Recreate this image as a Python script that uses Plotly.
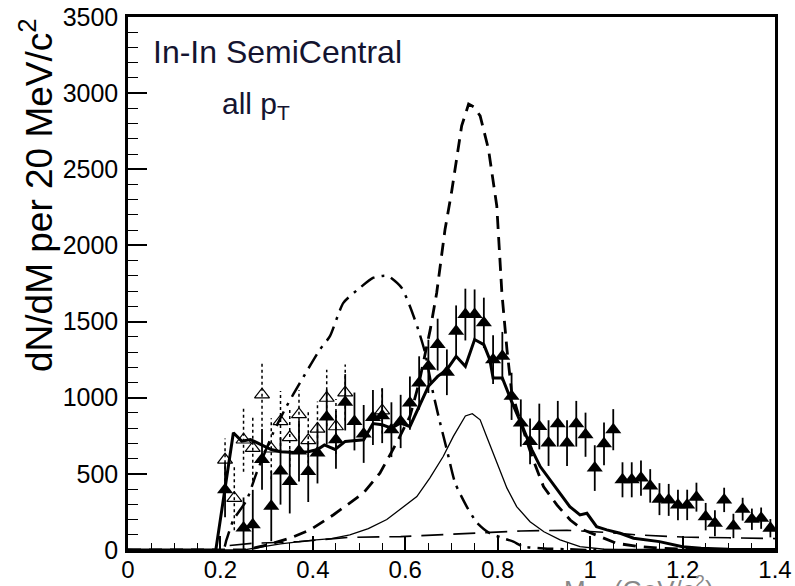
import plotly.graph_objects as go

# ---- data points (filled triangles) ----
fill_x = [0.21, 0.25, 0.27, 0.29, 0.31, 0.33, 0.35, 0.37, 0.39, 0.41, 0.43, 0.45, 0.47, 0.49,
          0.51, 0.53, 0.55, 0.57, 0.59, 0.61, 0.63, 0.65, 0.67, 0.69, 0.71, 0.73, 0.75, 0.77,
          0.79, 0.81, 0.83, 0.85, 0.87, 0.89, 0.91, 0.93, 0.95, 0.97, 0.99, 1.01, 1.03, 1.05,
          1.07, 1.09, 1.11, 1.13, 1.15, 1.17, 1.19, 1.21, 1.23, 1.25, 1.27, 1.29, 1.31, 1.33,
          1.35, 1.37, 1.39]
fill_y = [395, 145, 165, 595, 288, 518, 450, 650, 515, 637, 873, 724, 970, 844,
          762, 870, 882, 790, 844, 965, 1097, 1206, 1349, 1167, 1436, 1546, 1546, 1492,
          1250, 1272, 1009, 834, 713, 811, 702, 829, 702, 829, 757, 538, 697, 790,
          461, 461, 472, 421, 334, 329, 296, 296, 347, 219, 176, 329, 158, 268,
          202, 209, 143]
fill_err = [180, 200, 230, 200, 230, 220, 210, 200, 200, 200, 180, 190, 185, 190,
            190, 180, 180, 180, 175, 175, 175, 175, 170, 150, 170, 170, 165, 165,
            160, 160, 155, 155, 150, 150, 150, 150, 150, 150, 145, 150, 140, 135,
            115, 115, 115, 110, 105, 105, 100, 100, 95, 90, 85, 80, 80, 75,
            70, 70, 60]

# ---- open triangles ----
open_x = [0.21, 0.23, 0.25, 0.27, 0.29, 0.31, 0.33, 0.35, 0.37, 0.39, 0.41, 0.43, 0.45, 0.47, 0.55]
open_y = [592, 340, 724, 669, 1020, 665, 844, 740, 890, 720, 795, 998, 811, 1033, 915]
open_err = [140, 210, 210, 215, 210, 200, 200, 195, 160, 190, 180, 186, 180, 185, 150]

# ---- thick solid (sum) ----
sum_x = [0.0, 0.19, 0.228, 0.246, 0.265, 0.29, 0.31, 0.33, 0.36, 0.39, 0.41, 0.425, 0.448, 0.47,
         0.51, 0.53, 0.55, 0.57, 0.59, 0.61, 0.63, 0.65, 0.67, 0.69, 0.71, 0.73, 0.75, 0.77,
         0.783, 0.79, 0.81, 0.83, 0.855, 0.874, 0.892, 0.913, 0.935, 0.956, 0.978, 0.993,
         1.014, 1.036, 1.065, 1.094, 1.15, 1.2, 1.24, 1.3, 1.4]
sum_y = [0, 0, 770, 715, 725, 690, 660, 645, 640, 645, 660, 690, 660, 713,
         724, 830, 822, 800, 834, 811, 943, 1075, 1140, 1184, 1272, 1206, 1382, 1349,
         1250, 1130, 1130, 976, 800, 658, 548, 461, 373, 285, 230, 241,
         153, 132, 110, 77, 55, 22, 11, 5, 3]

# ---- thin solid ----
thin_x = [0.0, 0.25, 0.29, 0.33, 0.40, 0.44, 0.48, 0.52, 0.56, 0.60, 0.625, 0.653, 0.682, 0.704,
          0.73, 0.745, 0.762, 0.776, 0.798, 0.82, 0.841, 0.87, 0.90, 0.935, 0.978, 1.03, 1.4]
thin_y = [0, 0, 20, 40, 65, 75, 99, 140, 200, 290, 351, 472, 614, 746,
          880, 895, 855, 746, 570, 406, 285, 186, 120, 66, 22, 5, 0]

# ---- thick dashed ----
dash_x = [0.0, 0.25, 0.27, 0.30, 0.35, 0.394, 0.444, 0.488, 0.509, 0.545, 0.581, 0.61, 0.63, 0.654,
          0.668, 0.686, 0.70, 0.722, 0.737, 0.748, 0.762, 0.78, 0.798, 0.809, 0.82, 0.83, 0.848,
          0.874, 0.899, 0.928, 0.957, 0.985, 1.029, 1.057, 1.10, 1.15, 1.20, 1.4]
dash_y = [0, 0, 11, 33, 77, 132, 230, 329, 373, 505, 702, 877, 1100, 1447,
          1689, 2105, 2347, 2785, 2928, 2910, 2851, 2632, 2259, 1689, 1316, 1042, 855,
          614, 417, 296, 197, 132, 77, 44, 25, 12, 5, 0]

# ---- dash-dot ----
dd_x = [0.0, 0.205, 0.213, 0.228, 0.257, 0.278, 0.314, 0.343, 0.372, 0.415, 0.437, 0.466, 0.502,
        0.531, 0.55, 0.563, 0.592, 0.61, 0.628, 0.643, 0.657, 0.672, 0.69, 0.708, 0.733, 0.755,
        0.783, 0.812, 0.834, 0.855, 0.90, 0.95, 1.0, 1.4]
dd_y = [0, 0, 66, 197, 329, 505, 768, 943, 1097, 1316, 1404, 1623, 1722,
        1788, 1800, 1799, 1722, 1601, 1448, 1294, 1075, 877, 658, 439, 285, 180,
        110, 77, 55, 22, 10, 5, 0, 0]

# ---- long-dashed flat ----
ld_x = [0.22, 0.27, 0.37, 0.48, 0.59, 0.73, 0.85, 0.95, 1.04, 1.10, 1.20, 1.30, 1.40]
ld_y = [30, 44, 55, 83, 88, 110, 125, 130, 115, 99, 85, 80, 75]

x_ticks = [0, 0.2, 0.4, 0.6, 0.8, 1, 1.2, 1.4]
x_ticklabels = ["0", "0.2", "0.4", "0.6", "0.8", "1", "1.2", "1.4"]
y_ticks = [0, 500, 1000, 1500, 2000, 2500, 3000, 3500]

FONT = "Liberation Sans, Arial, sans-serif"

fig = go.Figure()

fig.add_trace(go.Scatter(x=ld_x, y=ld_y, mode="lines",
                         line=dict(color="black", width=1.6, dash="22px,10px")))
fig.add_trace(go.Scatter(x=thin_x, y=thin_y, mode="lines",
                         line=dict(color="black", width=1.3)))
fig.add_trace(go.Scatter(x=dd_x, y=dd_y, mode="lines", line_shape="spline",
                         line=dict(color="black", width=2.5, dash="16px,7px,3px,7px",
                                   smoothing=0.6)))
fig.add_trace(go.Scatter(x=dash_x, y=dash_y, mode="lines",
                         line=dict(color="black", width=2.8, dash="13px,8px")))

# dotted error bars of open triangles
ebx, eby = [], []
for xv, yv, ev in zip(open_x, open_y, open_err):
    ebx += [xv, xv, None]
    eby += [max(yv - ev, 0), yv + ev, None]
fig.add_trace(go.Scatter(x=ebx, y=eby, mode="lines",
                         line=dict(color="black", width=1.5, dash="dot")))
fig.add_trace(go.Scatter(x=open_x, y=open_y, mode="markers",
                         marker=dict(symbol="triangle-up-open", size=13, color="black",
                                     line=dict(width=1.2, color="#333"))))

fig.add_trace(go.Scatter(x=sum_x, y=sum_y, mode="lines",
                         line=dict(color="black", width=3)))

fig.add_trace(go.Scatter(x=fill_x, y=fill_y, mode="markers",
                         marker=dict(symbol="triangle-up", size=14, color="black"),
                         error_y=dict(type="data", array=fill_err, visible=True,
                                      thickness=1.8, width=0, color="black")))

fig.update_layout(
    width=795, height=586,
    margin=dict(l=128, r=20, t=17, b=36),
    paper_bgcolor="white", plot_bgcolor="white",
    showlegend=False,
    font=dict(family=FONT, color="black"),
    xaxis=dict(range=[0, 1.4], tickvals=x_ticks, ticktext=x_ticklabels,
               automargin=False,
               ticks="inside", ticklen=14, tickwidth=1.5, tickcolor="black",
               showline=True, linecolor="black", linewidth=2.5, mirror=True,
               showgrid=False, zeroline=False,
               tickfont=dict(size=24, family=FONT, color="black"),
               ticklabelstandoff=-4,
               minor=dict(dtick=0.05, ticks="inside", ticklen=7, tickwidth=1.2,
                          tickcolor="black", showgrid=False)),
    yaxis=dict(range=[0, 3500], tickvals=y_ticks,
               automargin=False,
               ticks="inside", ticklen=19, tickwidth=1.5, tickcolor="black",
               showline=True, linecolor="black", linewidth=2.5, mirror=True,
               showgrid=False, zeroline=False,
               tickfont=dict(size=25, family=FONT, color="black"),
               ticklabelstandoff=2,
               minor=dict(dtick=100, ticks="inside", ticklen=10, tickwidth=1.2,
                          tickcolor="black", showgrid=False)),
)

fig.add_annotation(xref="paper", yref="paper", x=(36 - 128) / 647, y=(550 - 195) / 533,
                   text="dN/dM per 20 MeV/c<sup>2</sup>", showarrow=False, textangle=-90,
                   xanchor="center", yanchor="middle",
                   font=dict(size=37, family=FONT, color="black"))
fig.add_annotation(xref="x", yref="y", x=0.05, y=3270, text="In-In SemiCentral",
                   showarrow=False, xanchor="left", yanchor="middle",
                   font=dict(size=32, family=FONT, color="#141430"))
fig.add_annotation(xref="x", yref="y", x=0.2, y=2920, text="all p<sub>T</sub>",
                   showarrow=False, xanchor="left", yanchor="middle",
                   font=dict(size=30, family=FONT, color="#141430"))
fig.add_annotation(xref="paper", yref="paper", x=(716 - 128) / 647, y=-(570 - 550) / 533,
                   text="M<sub>μμ</sub> (GeV/c<sup>2</sup>)", showarrow=False,
                   xanchor="right", yanchor="top",
                   font=dict(size=26, family=FONT, color="#888"))

fig.write_html("out.html")
